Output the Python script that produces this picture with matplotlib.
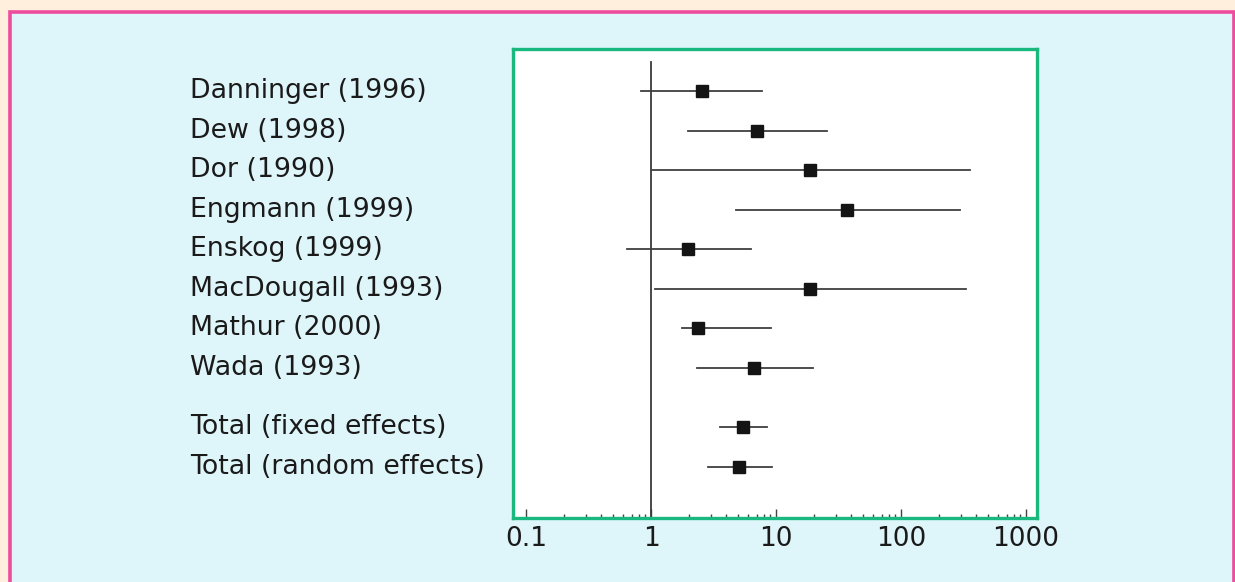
import matplotlib.pyplot as plt
from matplotlib.patches import Rectangle
from matplotlib.transforms import blended_transform_factory
from matplotlib.ticker import NullFormatter, FixedLocator, FixedFormatter

# Study data (odds ratio with 95% CI)
studies = ["Danninger (1996)", "Dew (1998)", "Dor (1990)", "Engmann (1999)",
           "Enskog (1999)", "MacDougall (1993)", "Mathur (2000)", "Wada (1993)",
           "Total (fixed effects)", "Total (random effects)"]
estimate = [2.56, 7.05, 18.7, 37.0, 1.98, 18.7, 2.38, 6.68, 5.45, 5.06]
ci_low = [0.83, 1.98, 1.02, 4.78, 0.64, 1.08, 1.77, 2.33, 3.56, 2.86]
ci_high = [7.7, 25.6, 356, 296, 6.3, 331, 9.12, 19.8, 8.5, 9.3]
rows = [0, 1, 2, 3, 4, 5, 6, 7, 8.5, 9.5]
tick_vals = [0.1, 1, 10, 100, 1000]
tick_labels = ["0.1", "1", "10", "100", "1000"]

W, H = 1235, 582
fig = plt.figure(figsize=(W / 100, H / 100), dpi=100)
fig.patch.set_facecolor("#FFEFDC")

# outer pink framed panel
fig.add_artist(Rectangle((9.5 / W, -0.05), (1234.2 - 9.5) / W, 1 - 11.5 / H + 0.05,
                         transform=fig.transFigure, facecolor="#DEF5FA",
                         edgecolor="#EE4C9C", linewidth=2.6, zorder=0))

ax = fig.add_axes([513 / W, 1 - 518 / H, (1037 - 513) / W, (518 - 49) / H])
ax.set_facecolor("white")
for s in ax.spines.values():
    s.set_color("#18B87F")
    s.set_linewidth(2.4)

ax.set_xscale("log")
ax.set_xlim(0.0787, 1224)
ax.set_ylim(10.79, -1.06)

# line of no effect
ax.plot([1, 1], [-0.73, 10.79], color="#3a3a3a", linewidth=1.3, zorder=2)

for r, e, lo, hi in zip(rows, estimate, ci_low, ci_high):
    ax.plot([lo, hi], [r, r], color="#3f3f3f", linewidth=1.3, zorder=3)
    ax.plot([e], [r], marker="s", markersize=8.2, color="#141414", zorder=4)

minor_vals = [m * 10.0 ** d for d in range(-1, 3) for m in range(2, 10)]
ax.xaxis.set_major_locator(FixedLocator(tick_vals))
ax.xaxis.set_major_formatter(FixedFormatter(tick_labels))
ax.xaxis.set_minor_locator(FixedLocator(minor_vals))
ax.xaxis.set_minor_formatter(NullFormatter())
ax.tick_params(axis="x", which="major", direction="in", length=6.5, width=1,
               color="#444444", labelsize=19, labelcolor="#1a1a1a", pad=6)
ax.tick_params(axis="x", which="minor", direction="in", length=3, width=1,
               color="#444444")
ax.set_yticks([])

trans = blended_transform_factory(fig.transFigure, ax.transData)
for r, name in zip(rows, studies):
    ax.text(190 / W, r, name, transform=trans, ha="left", va="center",
            fontsize=19.3, color="#1a1a1a", clip_on=False)

fig.savefig("out.png", dpi=100, facecolor=fig.get_facecolor())
